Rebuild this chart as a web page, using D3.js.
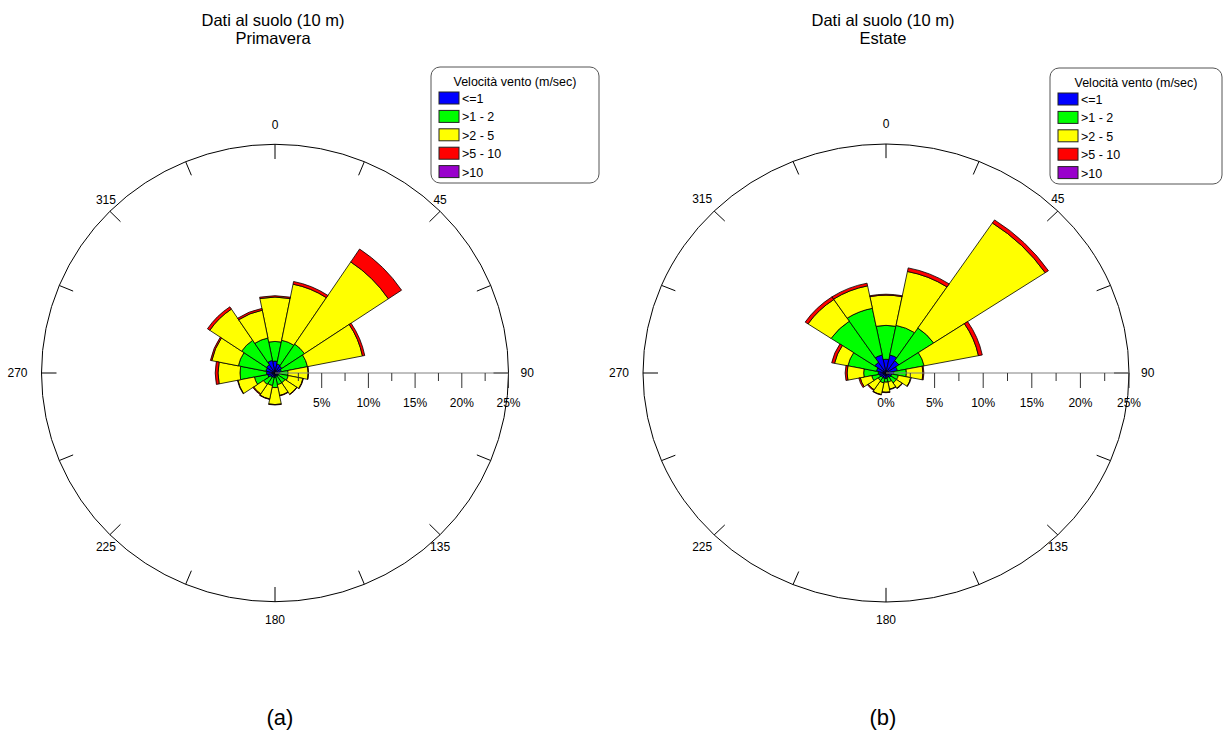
<!DOCTYPE html>
<html>
<head>
<meta charset="utf-8">
<script src="https://cdn.jsdelivr.net/npm/d3@7/dist/d3.min.js"></script>
<style>
    body { margin: 0; background: #fff; }
    text { font-family: "Liberation Sans", Arial, sans-serif; fill: #000; }
</style>
</head>
<body>
<div id="chart"></div>
<script>

// directions (degrees, clockwise from north)
var directions = [0, 22.5, 45, 67.5, 90, 112.5, 135, 157.5, 180, 202.5, 225, 247.5, 270, 292.5, 315, 337.5];
var dirLabels = [0, 45, 90, 135, 180, 225, 270, 315];
var speedClasses = ["<=1", ">1 - 2", ">2 - 5", ">5 - 10", ">10"];
var classColors = ["#0000ff", "#00ff00", "#ffff00", "#ff0000", "#9900cc"];
var radialTicks = [0, 5, 10, 15, 20, 25];

// Primavera - frequency (%) per speed class, per direction
var springLe1   = [1.3, 1.0, 0.9, 0.7, 0.5, 0.4, 0.4, 0.4, 0.5, 0.5, 0.6, 0.8, 0.9, 1.0, 1.1, 1.4];
var spring1to2  = [2.15, 2.65, 2.9, 2.85, 0.9, 1.05, 0.9, 0.9, 1.1, 0.9, 0.9, 1.45, 2.85, 3.0, 3.2, 2.5];
var spring2to5  = [4.85, 6.25, 10.8, 6.0, 2.15, 1.6, 1.5, 1.2, 1.85, 1.5, 1.25, 1.8, 2.35, 2.9, 4.1, 3.1];
var spring5to10 = [0.15, 0.3, 1.7, 0.25, 0.05, 0.05, 0.05, 0.05, 0.05, 0.05, 0.1, 0.05, 0.3, 0.15, 0.3, 0.2];
var springGt10  = [0, 0, 0, 0, 0, 0, 0, 0, 0, 0, 0, 0, 0, 0, 0, 0];

// Estate
var summerLe1   = [1.5, 2.0, 1.6, 1.2, 0.8, 0.6, 0.6, 0.5, 0.6, 0.6, 0.6, 0.7, 0.8, 1.0, 1.4, 2.0];
var summer1to2  = [3.7, 3.3, 4.3, 2.8, 1.3, 0.7, 0.7, 0.5, 0.4, 0.5, 0.4, 0.8, 1.5, 3.0, 5.4, 5.2];
var summer2to5  = [3.3, 6.0, 13.8, 5.7, 1.7, 1.3, 0.7, 0.8, 1.1, 1.3, 1.2, 1.2, 1.7, 1.4, 2.85, 2.5];
var summer5to10 = [0.1, 0.4, 0.4, 0.4, 0.1, 0.05, 0.05, 0.05, 0.05, 0.05, 0.1, 0.15, 0.2, 0.3, 0.35, 0.3];
var summerGt10  = [0, 0, 0, 0, 0, 0, 0, 0, 0, 0, 0, 0, 0, 0, 0, 0];

function buildTable(cols) {
    return directions.map(function (d, i) {
        var row = {dir: d};
        speedClasses.forEach(function (c, k) { row[c] = cols[k][i]; });
        return row;
    });
}

var svg = d3.select("#chart").append("svg")
    .attr("width", 1223)
    .attr("height", 733);

windRose = function (_svg, _opts) {
    this.svg = _svg;
    this.opts = _opts;
    this.initVis();
}

windRose.prototype.initVis = function () {
    var vis = this, o = vis.opts;

    vis.r = d3.scaleLinear().domain([0, 25]).range([0, o.rx]);
    vis.g = vis.svg.append("g")
        .attr("transform", "translate(" + o.cx + "," + o.cy + ")");

    // titles
    vis.svg.append("text").attr("x", o.tx).attr("y", 26)
        .attr("text-anchor", "middle").style("font-size", "16.5px").text(o.title);
    vis.svg.append("text").attr("x", o.tx).attr("y", 44)
        .attr("text-anchor", "middle").style("font-size", "16.5px").text(o.season);
    vis.svg.append("text").attr("x", o.lx).attr("y", 725)
        .attr("text-anchor", "middle").style("font-size", "22px").text(o.letter);

    // frame is a bit squashed vertically in the source picture
    vis.frame = vis.g.append("g")
        .attr("transform", "scale(1," + (o.ry / o.rx) + ")");

    vis.frame.append("circle")
        .attr("r", vis.r(25))
        .attr("fill", "none")
        .attr("stroke", "#000")
        .attr("vector-effect", "non-scaling-stroke");

    vis.frame.selectAll(".dirtick")
        .data(directions)
        .enter().append("line")
        .attr("class", "dirtick")
        .attr("x1", function (d) { return Math.sin(d * Math.PI / 180) * vis.r(25); })
        .attr("y1", function (d) { return -Math.cos(d * Math.PI / 180) * vis.r(25); })
        .attr("x2", function (d) { return Math.sin(d * Math.PI / 180) * (vis.r(25) - 15); })
        .attr("y2", function (d) { return -Math.cos(d * Math.PI / 180) * (vis.r(25) - 15); })
        .attr("stroke", "#000")
        .attr("vector-effect", "non-scaling-stroke");

    vis.g.selectAll(".dirlabel")
        .data(dirLabels)
        .enter().append("text")
        .attr("class", "dirlabel")
        .style("font-size", "12px")
        .attr("dy", "0.35em")
        .attr("text-anchor", function (d) {
            return d == 90 ? "start" : (d == 270 ? "end" : "middle");
        })
        .attr("x", function (d) {
            var x = Math.sin(d * Math.PI / 180) * o.rx;
            if (d == 90) return x + 12;
            if (d == 270) return x - 14;
            if (d == 225 || d == 315) return x - o.shiftW;
            return x;
        })
        .attr("y", function (d) {
            var y = -Math.cos(d * Math.PI / 180) * o.ry;
            if (d == 0) return y - 20;
            if (d == 180) return y + 18;
            if (d == 45 || d == 315) return y - 12;
            if (d == 135 || d == 225) return y + 12;
            return y;
        })
        .text(function (d) { return d; });

    // radial axis along 90
    vis.g.append("line")
        .attr("x1", 0).attr("x2", vis.r(25))
        .attr("stroke", "#808080");

    vis.g.selectAll(".rtick")
        .data(d3.range(2.5, 25.1, 2.5))
        .enter().append("line")
        .attr("class", "rtick")
        .attr("x1", function (d) { return vis.r(d); })
        .attr("x2", function (d) { return vis.r(d); })
        .attr("y1", 0)
        .attr("y2", function (d) { return d % 5 == 0 ? 15 : 8; })
        .attr("stroke", "#333");

    vis.g.selectAll(".rlabel")
        .data(radialTicks.filter(function (d) { return o.showZero || d > 0; }))
        .enter().append("text")
        .attr("class", "rlabel")
        .style("font-size", "12px")
        .attr("text-anchor", "middle")
        .attr("x", function (d) { return vis.r(d); })
        .attr("y", 34)
        .text(function (d) { return d + "%"; });

    vis.drawLegend();
}

windRose.prototype.drawLegend = function () {
    var vis = this, o = vis.opts;

    var leg = vis.svg.append("g")
        .attr("transform", "translate(" + o.legX + "," + o.legY + ")");

    leg.append("rect")
        .attr("width", o.legW).attr("height", 116)
        .attr("rx", 9).attr("ry", 9)
        .attr("fill", "#fff").attr("stroke", "#555");

    leg.append("text")
        .attr("x", o.legW / 2).attr("y", 19)
        .attr("text-anchor", "middle")
        .style("font-size", "12.5px")
        .text("Velocità vento (m/sec)");

    var item = leg.selectAll(".item")
        .data(speedClasses)
        .enter().append("g")
        .attr("class", "item")
        .attr("transform", function (d, i) { return "translate(8," + (25 + i * 18.4) + ")"; });

    item.append("rect")
        .attr("width", 20).attr("height", 12)
        .attr("fill", function (d, i) { return classColors[i]; })
        .attr("stroke", "#222");

    item.append("text")
        .attr("x", 23).attr("y", 11)
        .style("font-size", "12.5px")
        .text(function (d) { return d; });
}

windRose.prototype.updateVis = function (_data) {
    var vis = this;
    vis.data = _data;

    var stacked = d3.stack().keys(speedClasses)(vis.data);
    var half = 11.25 * Math.PI / 180;

    var arc = d3.arc()
        .innerRadius(function (d) { return vis.r(d[0]); })
        .outerRadius(function (d) { return vis.r(d[1]); })
        .startAngle(function (d) { return d.data.dir * Math.PI / 180 - half; })
        .endAngle(function (d) { return d.data.dir * Math.PI / 180 + half; });

    var layer = vis.frame.selectAll(".layer")
        .data(stacked)
        .enter().append("g")
        .attr("class", "layer")
        .attr("fill", function (d, i) { return classColors[i]; });

    layer.selectAll("path")
        .data(function (d) { return d.filter(function (s) { return s[1] > s[0]; }); })
        .enter().append("path")
        .attr("d", arc)
        .attr("stroke", "#000")
        .attr("stroke-width", 0.8)
        .attr("stroke-linejoin", "round")
        .attr("vector-effect", "non-scaling-stroke");
}

var spring = new windRose(svg, {
    cx: 275, cy: 373, rx: 233.5, ry: 228.7, shiftW: 4, showZero: false,
    tx: 273, lx: 280, title: "Dati al suolo (10 m)", season: "Primavera", letter: "(a)",
    legX: 431, legY: 67, legW: 168
});
spring.updateVis(buildTable([springLe1, spring1to2, spring2to5, spring5to10, springGt10]));

var summer = new windRose(svg, {
    cx: 886, cy: 373, rx: 243, ry: 229, shiftW: 12, showZero: true,
    tx: 883, lx: 883, title: "Dati al suolo (10 m)", season: "Estate", letter: "(b)",
    legX: 1050, legY: 68, legW: 172
});
summer.updateVis(buildTable([summerLe1, summer1to2, summer2to5, summer5to10, summerGt10]));

</script>
</body>
</html>
